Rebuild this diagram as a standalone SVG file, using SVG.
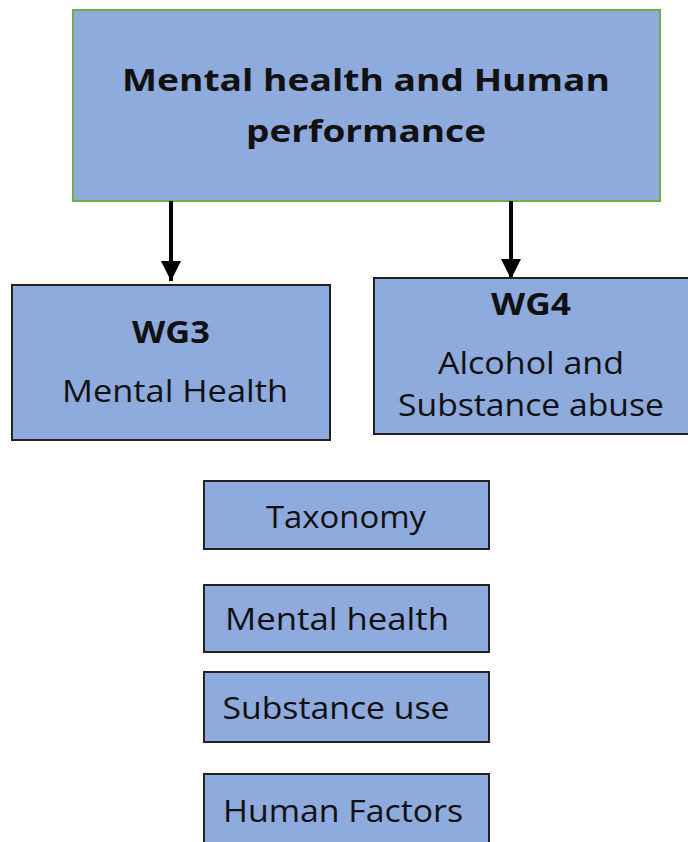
<svg xmlns="http://www.w3.org/2000/svg" width="688" height="842" viewBox="0 0 688 842">
<style>
.box{fill:#8FAADC;stroke:#222;stroke-width:2}
.top{fill:#8FAADC;stroke:#70AD47;stroke-width:2}
.t{font-family:"Open Sans","Liberation Sans",sans-serif;fill:#111;font-size:31px;text-anchor:middle}
.b{font-weight:bold}
.c{stroke:#000;stroke-width:4;fill:none}
</style>
<defs>
<marker id="ah" markerWidth="5" markerHeight="5" refX="5" refY="2.5" orient="auto" markerUnits="strokeWidth">
<path d="M0,0 L5,2.5 L0,5 z" fill="#000"/>
</marker>
</defs>
<rect width="688" height="842" fill="#fff"/>
<g id="root">
<rect class="top" x="73" y="10" width="587" height="191"/>
<text class="t b" x="366" y="91" font-size="37" textLength="488" lengthAdjust="spacingAndGlyphs">Mental health and Human</text>
<text class="t b" x="366" y="142" font-size="37" textLength="240" lengthAdjust="spacingAndGlyphs">performance</text>
</g>
<g id="connectors">
<line class="c" x1="171" y1="201" x2="171" y2="281" marker-end="url(#ah)"/>
<line class="c" x1="511" y1="201" x2="511" y2="279" marker-end="url(#ah)"/>
</g>
<g id="wg3">
<rect class="box" x="12" y="285" width="318" height="155"/>
<text class="t b" x="171" y="343" font-size="29" textLength="78" lengthAdjust="spacingAndGlyphs">WG3</text>
<text class="t" x="175" y="402" textLength="226" lengthAdjust="spacingAndGlyphs">Mental Health</text>
</g>
<g id="wg4">
<rect class="box" x="374" y="278" width="320" height="156"/>
<text class="t b" x="531" y="315" font-size="29" textLength="80" lengthAdjust="spacingAndGlyphs">WG4</text>
<text class="t" x="531" y="374" textLength="186" lengthAdjust="spacingAndGlyphs">Alcohol and</text>
<text class="t" x="531" y="416" textLength="266" lengthAdjust="spacingAndGlyphs">Substance abuse</text>
</g>
<g id="taxonomy">
<rect class="box" x="204" y="481" width="285" height="68"/>
<text class="t" x="346" y="528" textLength="160" lengthAdjust="spacingAndGlyphs">Taxonomy</text>
</g>
<g id="mentalhealth">
<rect class="box" x="204" y="585" width="285" height="67"/>
<text class="t" x="337" y="630" textLength="224" lengthAdjust="spacingAndGlyphs">Mental health</text>
</g>
<g id="substanceuse">
<rect class="box" x="204" y="672" width="285" height="70"/>
<text class="t" x="336" y="719" textLength="227" lengthAdjust="spacingAndGlyphs">Substance use</text>
</g>
<g id="humanfactors">
<rect class="box" x="204" y="774" width="285" height="80"/>
<text class="t" x="343" y="822" font-size="32" textLength="240" lengthAdjust="spacingAndGlyphs">Human Factors</text>
</g>
</svg>
